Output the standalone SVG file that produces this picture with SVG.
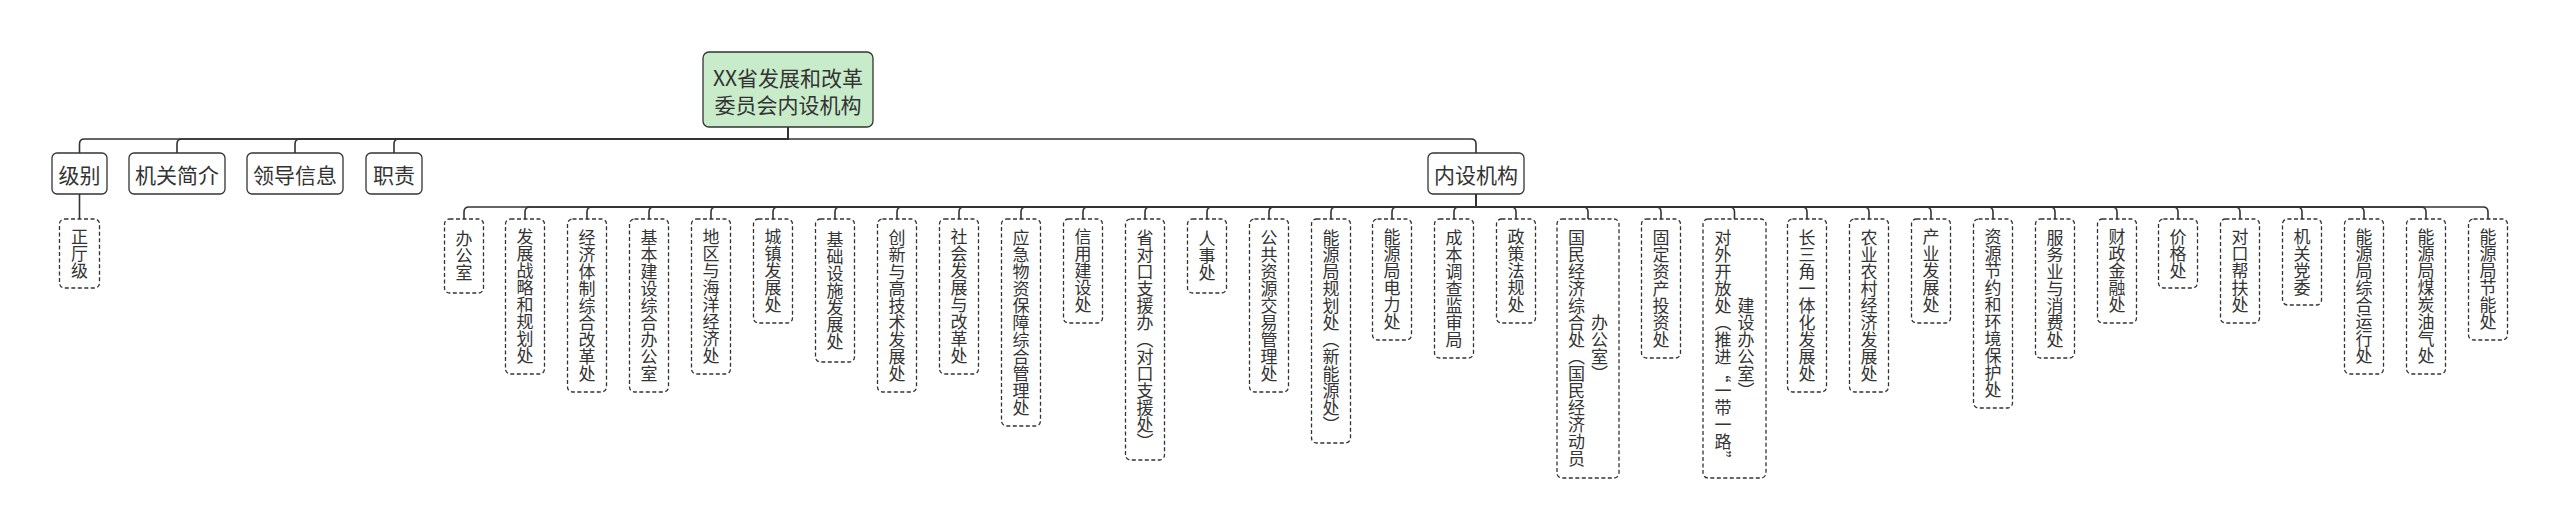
<svg xmlns="http://www.w3.org/2000/svg" width="2560" height="529" viewBox="0 0 2560 529">
<style>
text{font-family:"Noto Sans CJK SC","Noto Sans",sans-serif;fill:#333;}
.h{font-size:21px;text-anchor:middle;dominant-baseline:central;}
.v{font-size:17px;text-anchor:middle;writing-mode:vertical-rl;}
.solid{fill:#fff;stroke:#333;stroke-width:1.3;}
.root{fill:#c8ebca;stroke:#333;stroke-width:1.3;}
.dash{fill:#fff;stroke:#333;stroke-width:1.3;stroke-dasharray:4 2.5;}
.conn path{fill:none;stroke:#333;stroke-width:1.6;}
</style>
<rect width="2560" height="529" fill="#fff"/>
<g class="conn" id="connectors">
<path d="M788,127V139H84.5Q79.5,139 79.5,144V153"/>
<path d="M788,127V139H182Q177,139 177,144V153"/>
<path d="M788,127V139H300Q295,139 295,144V153"/>
<path d="M788,127V139H399Q394,139 394,144V153"/>
<path d="M788,127V139H1471Q1476,139 1476,144V153"/>
<path d="M79.5,194V219"/>
<path d="M1476,194V207H469Q464,207 464,212V219"/>
<path d="M1476,194V207H530Q525,207 525,212V219"/>
<path d="M1476,194V207H592Q587,207 587,212V219"/>
<path d="M1476,194V207H654Q649,207 649,212V219"/>
<path d="M1476,194V207H716Q711,207 711,212V219"/>
<path d="M1476,194V207H778Q773,207 773,212V219"/>
<path d="M1476,194V207H840Q835,207 835,212V219"/>
<path d="M1476,194V207H902Q897,207 897,212V219"/>
<path d="M1476,194V207H964Q959,207 959,212V219"/>
<path d="M1476,194V207H1026Q1021,207 1021,212V219"/>
<path d="M1476,194V207H1088Q1083,207 1083,212V219"/>
<path d="M1476,194V207H1150Q1145,207 1145,212V219"/>
<path d="M1476,194V207H1212Q1207,207 1207,212V219"/>
<path d="M1476,194V207H1274Q1269,207 1269,212V219"/>
<path d="M1476,194V207H1336Q1331,207 1331,212V219"/>
<path d="M1476,194V207H1397Q1392,207 1392,212V219"/>
<path d="M1476,194V207H1459Q1454,207 1454,212V219"/>
<path d="M1476,194V207H1511Q1516,207 1516,212V219"/>
<path d="M1476,194V207H1583Q1588,207 1588,212V219"/>
<path d="M1476,194V207H1656Q1661,207 1661,212V219"/>
<path d="M1476,194V207H1729.5Q1734.5,207 1734.5,212V219"/>
<path d="M1476,194V207H1802Q1807,207 1807,212V219"/>
<path d="M1476,194V207H1864Q1869,207 1869,212V219"/>
<path d="M1476,194V207H1926Q1931,207 1931,212V219"/>
<path d="M1476,194V207H1988Q1993,207 1993,212V219"/>
<path d="M1476,194V207H2050Q2055,207 2055,212V219"/>
<path d="M1476,194V207H2112Q2117,207 2117,212V219"/>
<path d="M1476,194V207H2173Q2178,207 2178,212V219"/>
<path d="M1476,194V207H2235Q2240,207 2240,212V219"/>
<path d="M1476,194V207H2297Q2302,207 2302,212V219"/>
<path d="M1476,194V207H2359Q2364,207 2364,212V219"/>
<path d="M1476,194V207H2421Q2426,207 2426,212V219"/>
<path d="M1476,194V207H2483Q2488,207 2488,212V219"/>
</g>
<g id="root"><rect class="root" x="703" y="52" width="170" height="75" rx="6"/><text class="h" x="788" y="77">XX省发展和改革</text><text class="h" x="788" y="104">委员会内设机构</text></g>
<g id="n-jibie"><rect class="solid" x="52" y="153" width="55" height="41" rx="5"/><text class="h" x="79.5" y="173.5">级别</text></g>
<g id="n-jianjie"><rect class="solid" x="129" y="153" width="96" height="41" rx="5"/><text class="h" x="177" y="173.5">机关简介</text></g>
<g id="n-lingdao"><rect class="solid" x="247" y="153" width="96" height="41" rx="5"/><text class="h" x="295" y="173.5">领导信息</text></g>
<g id="n-zhize"><rect class="solid" x="366" y="153" width="56" height="41" rx="5"/><text class="h" x="394" y="173.5">职责</text></g>
<g id="n-neishe"><rect class="solid" x="1428" y="153" width="96" height="41" rx="5"/><text class="h" x="1476" y="173.5">内设机构</text></g>
<g id="n-zhengting"><rect class="dash" x="59.5" y="219" width="40" height="69" rx="5"/><text class="v" x="79.5" y="253.5">正厅级</text></g>
<g id="c1"><rect class="dash" x="444.5" y="219" width="39" height="74" rx="5"/><text class="v" x="464" y="256">办公室</text></g>
<g id="c2"><rect class="dash" x="505.5" y="219" width="39" height="155" rx="5"/><text class="v" x="525" y="296.5">发展战略和规划处</text></g>
<g id="c3"><rect class="dash" x="567.5" y="219" width="39" height="173" rx="5"/><text class="v" x="587" y="305.5">经济体制综合改革处</text></g>
<g id="c4"><rect class="dash" x="629.5" y="219" width="39" height="173" rx="5"/><text class="v" x="649" y="305.5">基本建设综合办公室</text></g>
<g id="c5"><rect class="dash" x="691.5" y="219" width="39" height="155" rx="5"/><text class="v" x="711" y="296.5">地区与海洋经济处</text></g>
<g id="c6"><rect class="dash" x="753.5" y="219" width="39" height="104" rx="5"/><text class="v" x="773" y="271">城镇发展处</text></g>
<g id="c7"><rect class="dash" x="815.5" y="219" width="39" height="143" rx="5"/><text class="v" x="835" y="290.5">基础设施发展处</text></g>
<g id="c8"><rect class="dash" x="877.5" y="219" width="39" height="173" rx="5"/><text class="v" x="897" y="305.5">创新与高技术发展处</text></g>
<g id="c9"><rect class="dash" x="939.5" y="219" width="39" height="155" rx="5"/><text class="v" x="959" y="296.5">社会发展与改革处</text></g>
<g id="c10"><rect class="dash" x="1001.5" y="219" width="39" height="207" rx="5"/><text class="v" x="1021" y="322.5">应急物资保障综合管理处</text></g>
<g id="c11"><rect class="dash" x="1063.5" y="219" width="39" height="104" rx="5"/><text class="v" x="1083" y="271">信用建设处</text></g>
<g id="c12"><rect class="dash" x="1125.5" y="219" width="39" height="241" rx="5"/><text class="v" x="1145" y="339.5">省对口支援办（对口支援处）</text></g>
<g id="c13"><rect class="dash" x="1187.5" y="219" width="39" height="74" rx="5"/><text class="v" x="1207" y="256">人事处</text></g>
<g id="c14"><rect class="dash" x="1249.5" y="219" width="39" height="173" rx="5"/><text class="v" x="1269" y="305.5">公共资源交易管理处</text></g>
<g id="c15"><rect class="dash" x="1311.5" y="219" width="39" height="224" rx="5"/><text class="v" x="1331" y="331">能源局规划处（新能源处）</text></g>
<g id="c16"><rect class="dash" x="1372.5" y="219" width="39" height="121" rx="5"/><text class="v" x="1392" y="279.5">能源局电力处</text></g>
<g id="c17"><rect class="dash" x="1434.5" y="219" width="39" height="139" rx="5"/><text class="v" x="1454" y="288.5">成本调查监审局</text></g>
<g id="c18"><rect class="dash" x="1496.5" y="219" width="39" height="104" rx="5"/><text class="v" x="1516" y="271">政策法规处</text></g>
<g id="c19"><rect class="dash" x="1557" y="219" width="62" height="259" rx="5"/><text class="v" x="1576.5" y="348.5">国民经济综合处（国民经济动员</text><text class="v" x="1599.5" y="348.5">办公室）</text></g>
<g id="c20"><rect class="dash" x="1641.5" y="219" width="39" height="139" rx="5"/><text class="v" x="1661" y="288.5">固定资产投资处</text></g>
<g id="c21"><rect class="dash" x="1703" y="219" width="63" height="259" rx="5"/><text class="v" x="1723" y="348.5">对外开放处（推进“一带一路”</text><text class="v" x="1746" y="348.5">建设办公室）</text></g>
<g id="c22"><rect class="dash" x="1787.5" y="219" width="39" height="173" rx="5"/><text class="v" x="1807" y="305.5">长三角一体化发展处</text></g>
<g id="c23"><rect class="dash" x="1849.5" y="219" width="39" height="173" rx="5"/><text class="v" x="1869" y="305.5">农业农村经济发展处</text></g>
<g id="c24"><rect class="dash" x="1911.5" y="219" width="39" height="104" rx="5"/><text class="v" x="1931" y="271">产业发展处</text></g>
<g id="c25"><rect class="dash" x="1973.5" y="219" width="39" height="189" rx="5"/><text class="v" x="1993" y="313.5">资源节约和环境保护处</text></g>
<g id="c26"><rect class="dash" x="2035.5" y="219" width="39" height="139" rx="5"/><text class="v" x="2055" y="288.5">服务业与消费处</text></g>
<g id="c27"><rect class="dash" x="2097.5" y="219" width="39" height="104" rx="5"/><text class="v" x="2117" y="271">财政金融处</text></g>
<g id="c28"><rect class="dash" x="2158.5" y="219" width="39" height="69" rx="5"/><text class="v" x="2178" y="253.5">价格处</text></g>
<g id="c29"><rect class="dash" x="2220.5" y="219" width="39" height="104" rx="5"/><text class="v" x="2240" y="271">对口帮扶处</text></g>
<g id="c30"><rect class="dash" x="2282.5" y="219" width="39" height="86" rx="5"/><text class="v" x="2302" y="262">机关党委</text></g>
<g id="c31"><rect class="dash" x="2344.5" y="219" width="39" height="155" rx="5"/><text class="v" x="2364" y="296.5">能源局综合运行处</text></g>
<g id="c32"><rect class="dash" x="2406.5" y="219" width="39" height="155" rx="5"/><text class="v" x="2426" y="296.5">能源局煤炭油气处</text></g>
<g id="c33"><rect class="dash" x="2468.5" y="219" width="39" height="121" rx="5"/><text class="v" x="2488" y="279.5">能源局节能处</text></g>
</svg>
